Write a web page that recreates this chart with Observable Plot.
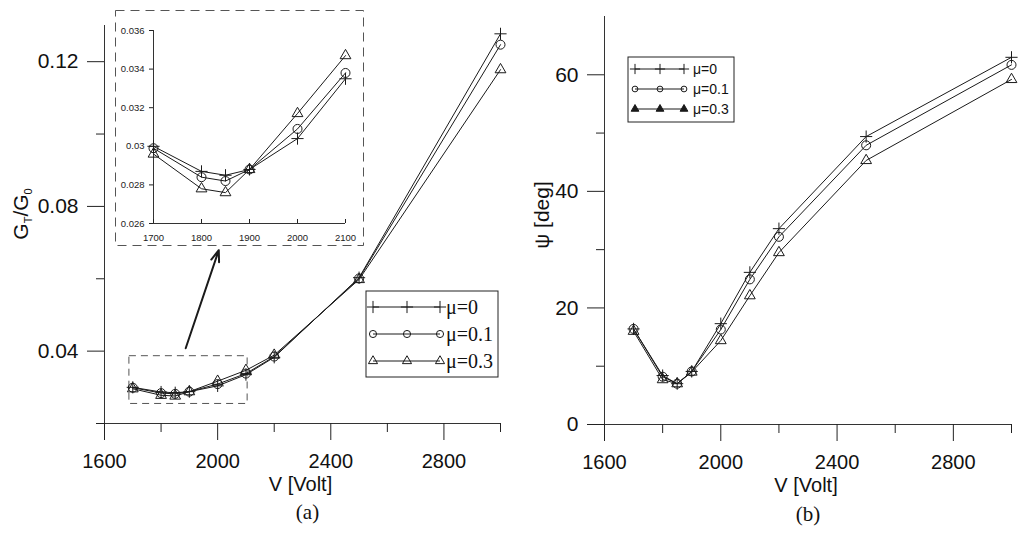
<!DOCTYPE html>
<html>
<head>
<meta charset="utf-8">
<script src="https://cdn.jsdelivr.net/npm/d3@7"></script>
<script src="https://cdn.jsdelivr.net/npm/@observablehq/plot@0.6"></script>
<style>
  body { margin: 0; background: #fff; }
  #wrap { position: relative; width: 1024px; height: 537px; overflow: hidden; }
  #wrap > svg { position: absolute; }
</style>
</head>
<body>
<div id="wrap"></div>
<script>
const volts = [1700, 1800, 1850, 1900, 2000, 2100, 2200, 2500, 3000];
const series = ["μ=0", "μ=0.1", "μ=0.3"];
const symbols = ["plus", "circle", "triangle"];

const gainMu0  = [0.0300, 0.0287, 0.0285, 0.0288, 0.0304, 0.0335, 0.0383, 0.0603, 0.1277];
const gainMu01 = [0.0299, 0.0284, 0.0282, 0.0288, 0.0309, 0.0338, 0.0385, 0.0601, 0.1247];
const gainMu03 = [0.0296, 0.0278, 0.0276, 0.0288, 0.0317, 0.0347, 0.0389, 0.0598, 0.1178];

const psiMu0  = [16.4, 8.4, 7.0, 9.1, 17.3, 26.1, 33.6, 49.4, 63.0];
const psiMu01 = [16.4, 8.2, 7.0, 9.1, 16.3, 24.9, 32.2, 47.9, 61.7];
const psiMu03 = [16.0, 7.7, 7.0, 9.0, 14.4, 22.1, 29.5, 45.3, 59.2];

const voltTicks = [1600, 2000, 2400, 2800];
const voltMinor = [1800, 2200, 2600, 3000];
const gainTicks = [0.04, 0.08, 0.12];
const gainMinor = [0.02, 0.06, 0.10];
const psiTicks = [0, 20, 40, 60];
const psiMinor = [10, 30, 50];
const insetGainTicks = [0.026, 0.028, 0.03, 0.032, 0.034, 0.036];
const insetVoltTicks = [1700, 1800, 1900, 2000, 2100];

// zoom window and arrow, in data units
const zoomBox = [{x1: 1688, x2: 2106, y1: 0.0254, y2: 0.0386}];
const pointer = [{x1: 1887, y1: 0.0408, x2: 2004, y2: 0.0679}];

const gains = [gainMu0, gainMu01, gainMu03];
const psis = [psiMu0, psiMu01, psiMu03];
const rows = series.flatMap((s, k) =>
  volts.map((v, i) => ({v, s, k, gain: gains[k][i], psi: psis[k][i]})));

const ink = "#1a1a1a";
const symR = {plus: 4, circle: 4.5, triangle: 4};
const style = {fontFamily: "'Liberation Sans', Arial, sans-serif", color: "#222", background: "none", overflow: "visible"};
const intFmt = d3.format("d");

function seriesMarks(data, y) {
  return series.flatMap((s, k) => {
    const d = data.filter(r => r.k === k);
    return [
      Plot.line(d, {x: "v", y, stroke: ink, strokeWidth: 1}),
      Plot.dot(d, {x: "v", y, symbol: symbols[k], r: symR[symbols[k]], stroke: ink, fill: "none", strokeWidth: 1})
    ];
  });
}

function axes(xMajor, xMinor, yMajor, yMinor, fmt, xLo, yLo) {
  return [
    Plot.ruleX([xLo], {stroke: "#333"}),
    Plot.ruleY([yLo], {stroke: "#333"}),
    Plot.axisX(xMajor, {tickSize: 17, tickPadding: 13, fontSize: 20, fill: "#111", tickFormat: intFmt, label: null}),
    Plot.axisX(xMinor, {tickSize: 9, fill: "none", label: null}),
    Plot.axisY(yMajor, {tickSize: 17, tickPadding: 9, fontSize: 21, fill: "#111", tickFormat: fmt, label: null}),
    Plot.axisY(yMinor, {tickSize: 8, fill: "none", label: null})
  ];
}

const wrap = d3.select("#wrap");

// (a) transmission gain
const left = Plot.plot({
  width: 520, height: 537,
  marginLeft: 104, marginRight: 20, marginTop: 25, marginBottom: 114,
  x: {domain: [1600, 3000], label: null},
  y: {domain: [0.02, 0.13], label: null},
  style,
  marks: [
    ...axes(voltTicks, voltMinor, gainTicks, gainMinor, d3.format(".2f"), 1600, 0.02),
    Plot.rect(zoomBox, {x1: "x1", x2: "x2", y1: "y1", y2: "y2", fill: "none", stroke: "#555", strokeDasharray: "7,5"}),
    Plot.arrow(pointer, {x1: "x1", y1: "y1", x2: "x2", y2: "y2", stroke: ink, strokeWidth: 2, headLength: 9, headAngle: 40}),
    ...seriesMarks(rows, "gain"),
    Plot.text(["V [Volt]"], {frameAnchor: "bottom", dy: 67, dx: -2, fontSize: 20, fill: "#111"}),
    Plot.text(["(a)"], {frameAnchor: "bottom", dy: 95, dx: 5, fontSize: 21, fontFamily: "'Liberation Serif', serif", fill: "#111"})
  ]
});
d3.select(left).style("left", "0px").style("top", "0px");
const gl = d3.select(left).append("text")
  .attr("transform", "translate(28,214) rotate(-90)")
  .attr("text-anchor", "middle").attr("fill", "#111")
  .style("font-size", "21px");
gl.append("tspan").text("G");
gl.append("tspan").attr("dy", 4).style("font-size", "11px").text("T");
gl.append("tspan").attr("dy", -4).text("/G");
gl.append("tspan").attr("dy", 4).style("font-size", "11px").text("0");
wrap.append(() => left);

// inset, zoom on 1700-2100 V
const inset = Plot.plot({
  width: 250, height: 237,
  marginLeft: 39, marginRight: 19, marginTop: 21, marginBottom: 23,
  x: {domain: [1700, 2100], label: null},
  y: {domain: [0.026, 0.036], label: null},
  style,
  marks: [
    Plot.frame({stroke: "#555", strokeDasharray: "9,6", insetLeft: -38, insetTop: -20, insetRight: -18, insetBottom: -22}),
    Plot.ruleX([1700], {stroke: "#333"}),
    Plot.ruleY([0.026], {stroke: "#333"}),
    Plot.axisX(insetVoltTicks, {tickSize: 4, insetBottom: 4, fill: "none", label: null}),
    Plot.axisX(insetVoltTicks, {tickSize: 0, tickPadding: 11, fontSize: 9.5, fill: "#222", tickFormat: intFmt, label: null}),
    Plot.axisY(insetGainTicks, {tickSize: 4, tickPadding: 5, fontSize: 9.5, fill: "#222", tickFormat: d => String(+d.toFixed(3)), label: null}),
    ...seriesMarks(rows.filter(r => r.v <= 2100), "gain")
  ]
});
d3.select(inset).style("left", "114px").style("top", "9px");
wrap.append(() => inset);

// (b) phase
const right = Plot.plot({
  width: 504, height: 537,
  marginLeft: 84, marginRight: 13, marginTop: 16, marginBottom: 113,
  x: {domain: [1600, 3000], label: null},
  y: {domain: [0, 70], label: null},
  style,
  marks: [
    ...axes(voltTicks, voltMinor, psiTicks, psiMinor, intFmt, 1600, 0),
    ...seriesMarks(rows, "psi"),
    Plot.text(["V [Volt]"], {frameAnchor: "bottom", dy: 67, dx: -2, fontSize: 20, fill: "#111"}),
    Plot.text(["(b)"], {frameAnchor: "bottom", dy: 96, dx: 0, fontSize: 21, fontFamily: "'Liberation Serif', serif", fill: "#111"})
  ]
});
d3.select(right).style("left", "520px").style("top", "0px");
d3.select(right).append("text")
  .attr("transform", "translate(29,215) rotate(-90)")
  .attr("text-anchor", "middle").attr("fill", "#111")
  .style("font-size", "21px")
  .text("ψ [deg]");
wrap.append(() => right);

// legends
const over = wrap.append("svg").attr("width", 1024).attr("height", 537)
  .style("left", "0px").style("top", "0px").style("pointer-events", "none");
const symType = {plus: d3.symbolPlus, circle: d3.symbolCircle, triangle: d3.symbolTriangle};

function legend(o) {
  const g = over.append("g");
  g.append("rect").attr("x", o.x).attr("y", o.y).attr("width", o.w).attr("height", o.h)
    .attr("fill", "#fff").attr("stroke", "#222").attr("stroke-width", 1);
  series.forEach((s, k) => {
    const y = o.rows[k];
    g.append("line").attr("x1", o.marks[0]).attr("x2", o.marks[2]).attr("y1", y).attr("y2", y)
      .attr("stroke", ink).attr("stroke-width", 1);
    o.marks.forEach(x => {
      g.append("path")
        .attr("d", d3.symbol(symType[symbols[k]], o.size[k])())
        .attr("transform", `translate(${x},${y})`)
        .attr("fill", o.filled[k] ? ink : "none")
        .attr("stroke", ink).attr("stroke-width", 1);
    });
    g.append("text").attr("x", o.tx).attr("y", y).attr("dy", "0.35em")
      .attr("fill", "#111").style("font-family", o.font).style("font-size", o.fs + "px").text(s);
  });
}

legend({x: 366, y: 291, w: 132, h: 86, rows: [307, 334, 361], marks: [373, 407, 440],
  tx: 446, fs: 20, font: "'Liberation Serif', serif", size: [50, 40, 36], filled: [false, false, false]});
legend({x: 628, y: 57, w: 106, h: 65, rows: [69, 89, 109], marks: [635, 660, 684],
  tx: 693, fs: 14, font: "'Liberation Sans', Arial, sans-serif", size: [36, 26, 26], filled: [false, false, true]});
</script>
</body>
</html>
